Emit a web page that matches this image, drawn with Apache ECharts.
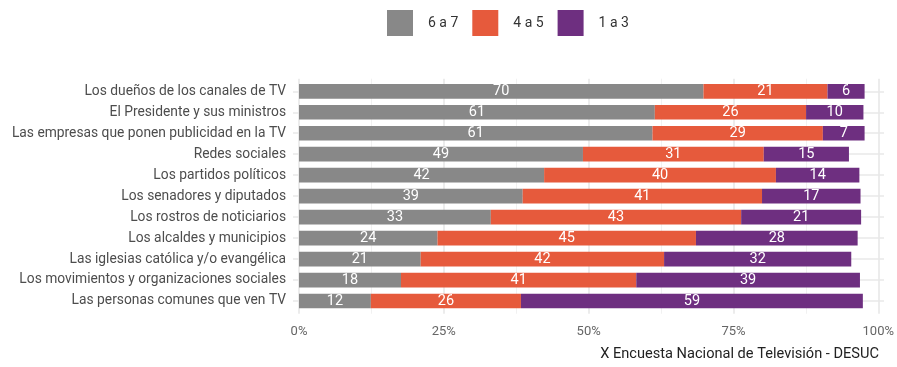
<!DOCTYPE html>
<html>
<head>
<meta charset="utf-8">
<script src="https://cdn.jsdelivr.net/npm/echarts@6/dist/echarts.min.js"></script>
<style>html,body{margin:0;padding:0;background:#fff}#c{width:897px;height:367px}</style>
</head>
<body>
<div id="c"></div>
<script>
const categories = [
  "Los dueños de los canales de TV",
  "El Presidente y sus ministros",
  "Las empresas que ponen publicidad en la TV",
  "Redes sociales",
  "Los partidos políticos",
  "Los senadores y diputados",
  "Los rostros de noticiarios",
  "Los alcaldes y municipios",
  "Las iglesias católica y/o evangélica",
  "Los movimientos y organizaciones sociales",
  "Las personas comunes que ven TV"
];
const seriesNames = ["6 a 7", "4 a 5", "1 a 3"];
const values6a7 = [69.8, 61.4, 61.0, 49.0, 42.3, 38.6, 33.1, 23.9, 21.0, 17.6, 12.4];
const values4a5 = [21.4, 26.1, 29.4, 31.2, 40.0, 41.3, 43.2, 44.6, 42.0, 40.6, 25.9];
const values1a3 = [6.4, 9.9, 7.2, 14.7, 14.4, 17.0, 20.7, 27.9, 32.3, 38.6, 59.0];
const xTicks = [0, 25, 50, 75, 100];
const caption = "X Encuesta Nacional de Televisión - DESUC";

const colors = ["#888888", "#e65a3c", "#6e2f80"];
const font = "Roboto";

const chart = echarts.init(document.getElementById('c'));
const lbl = {
  show: true, position: 'inside', color: '#ffffff', fontSize: 14.5, fontFamily: font,
  formatter: p => Math.round(p.value)
};
const mk = (name, data, i) => ({
  name, type: 'bar', stack: 'total', data, barWidth: '70%',
  xAxisIndex: 0, yAxisIndex: 0, clip: false,
  itemStyle: { color: colors[i] }, label: lbl
});

chart.setOption({
  animation: false,
  textStyle: { fontFamily: font },
  color: colors,
  title: {
    text: caption, right: 18, top: 347, padding: 0,
    textStyle: { fontSize: 14.6, fontWeight: 'normal', color: '#222', fontFamily: font }
  },
  legend: {
    top: 10, left: 387, padding: 0, icon: 'rect', itemWidth: 26, itemHeight: 26, itemGap: 14,
    textStyle: { fontSize: 14, color: '#333', fontFamily: font, padding: [0, 0, 0, 10] },
    data: seriesNames
  },
  grid: [
    { left: 299, width: 579.5, top: 80.8, height: 230.7 },
    { left: 299, width: 579.5, top: 78.7, height: 235 },
    { left: 293, right: 13, top: 91.3, height: 209.7 }
  ],
  xAxis: [
    {
      type: 'value', gridIndex: 0, min: xTicks[0], max: xTicks[xTicks.length - 1], interval: 25,
      show: false
    },
    {
      type: 'value', gridIndex: 1, min: xTicks[0], max: xTicks[xTicks.length - 1], interval: 25,
      axisLine: { show: false }, axisTick: { show: false },
      axisLabel: { formatter: v => v + '%', fontSize: 13, color: '#666', margin: 12, fontFamily: font },
      splitLine: { show: true, lineStyle: { color: '#e8e8e8', width: 1.6 } },
      minorTick: { show: false, splitNumber: 2 },
      minorSplitLine: { show: true, lineStyle: { color: '#f1f1f1', width: 1 } }
    },
    { type: 'value', gridIndex: 2, show: false, min: 0, max: 100 }
  ],
  yAxis: [
    {
      type: 'category', gridIndex: 0, inverse: true, data: categories,
      axisLine: { show: false }, axisTick: { show: false },
      axisLabel: { margin: 13, fontSize: 13.8, color: '#4d4d4d', fontFamily: font, interval: 0 },
      splitLine: { show: false }
    },
    {
      type: 'value', gridIndex: 1, show: false, min: 0, max: 1
    },
    {
      type: 'category', gridIndex: 2, inverse: true, data: categories, boundaryGap: false,
      axisLine: { show: false }, axisTick: { show: false, interval: 0 },
      axisLabel: { show: false, interval: 0 },
      splitLine: { show: true, interval: 0, lineStyle: { color: '#e8e8e8', width: 1.6 } }
    }
  ],
  series: [
    mk(seriesNames[0], values6a7, 0),
    mk(seriesNames[1], values4a5, 1),
    mk(seriesNames[2], values1a3, 2)
  ]
});
</script>
</body>
</html>
